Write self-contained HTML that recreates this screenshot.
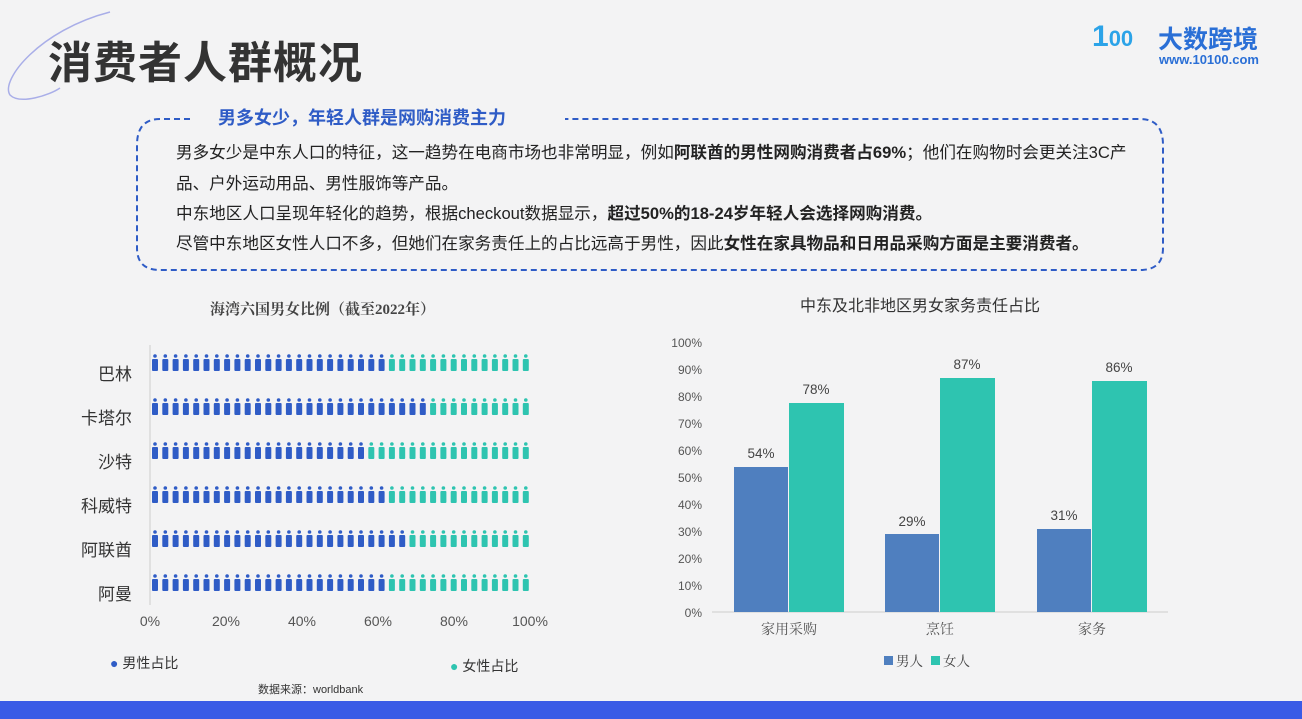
<!DOCTYPE html><html><head><meta charset="utf-8"><style>
body{margin:0;width:1302px;height:719px;background:#f3f3f4;position:relative;overflow:hidden;font-family:"Liberation Sans","Noto Sans CJK SC",sans-serif;}
.a{position:absolute;white-space:nowrap}
.txt{font-size:16.6px;color:#222;}
b{font-weight:700}
</style></head><body>
<svg class="a" style="left:0;top:0" width="1302" height="719">
<path d="M110 12 C40 30 0 80 10 95 C20 105 50 95 60 88" fill="none" stroke="#a9aee8" stroke-width="1.5"/>
<path d="M190 119 L160 119 Q137 119 137 145 L137 248 Q137 270 160 270 L1140 270 Q1163 270 1163 248 L1163 145 Q1163 119 1140 119 L565 119" fill="none" stroke="#2f5cc6" stroke-width="2" stroke-dasharray="6,4"/>
<rect x="0" y="701" width="1302" height="18" fill="#3a5be6"/>
<line x1="150" y1="345" x2="150" y2="605" stroke="#ccc"/>
<g id="ic"></g>
<g font-size="12" fill="#555" text-anchor="end" font-family="Liberation Sans,sans-serif">
<text x="702" y="347">100%</text><text x="702" y="374">90%</text><text x="702" y="401">80%</text><text x="702" y="428">70%</text><text x="702" y="455">60%</text><text x="702" y="482">50%</text><text x="702" y="509">40%</text><text x="702" y="536">30%</text><text x="702" y="563">20%</text><text x="702" y="590">10%</text><text x="702" y="617">0%</text>
</g>
<line x1="712" y1="612" x2="1168" y2="612" stroke="#ccc"/>
<rect x="734" y="467" width="54" height="145" fill="#4f7fbf"/>
<rect x="789" y="403" width="55" height="209" fill="#2ec4b0"/>
<rect x="885" y="534" width="54" height="78" fill="#4f7fbf"/>
<rect x="940" y="378" width="55" height="234" fill="#2ec4b0"/>
<rect x="1037" y="529" width="54" height="83" fill="#4f7fbf"/>
<rect x="1092" y="381" width="55" height="231" fill="#2ec4b0"/>
<g font-size="13.5" fill="#444" text-anchor="middle" font-family="Liberation Sans,sans-serif">
<text x="761" y="458">54%</text><text x="816" y="394">78%</text>
<text x="912" y="526">29%</text><text x="967" y="369">87%</text>
<text x="1064" y="520">31%</text><text x="1119" y="372">86%</text>
</g>
<g font-size="14" fill="#555" text-anchor="middle" font-family="Liberation Serif,Noto Serif CJK SC,serif">
<text x="789" y="634">家用采购</text><text x="940" y="634">烹饪</text><text x="1092" y="634">家务</text>
</g>
<rect x="884" y="656" width="9" height="9" fill="#4f7fbf"/><rect x="931" y="656" width="9" height="9" fill="#2ec4b0"/>
<g font-size="13.5" fill="#444" font-family="Liberation Serif,Noto Serif CJK SC,serif"><text x="896" y="666">男人</text><text x="943" y="666">女人</text></g>
<g font-size="14" fill="#555" text-anchor="middle" font-family="Liberation Sans,sans-serif">
<text x="150" y="626">0%</text><text x="226" y="626">20%</text><text x="302" y="626">40%</text><text x="378" y="626">60%</text><text x="454" y="626">80%</text><text x="530" y="626">100%</text></g>
</svg>
<div class="a" style="left:48px;top:27px;font-size:44px;font-weight:700;color:#333;letter-spacing:1px">消费者人群概况</div>
<div class="a" style="left:1092px;top:20px;font-size:30px;font-weight:700;color:#2ba3e8">1<span style="font-size:22px">00</span></div>
<div class="a" style="left:1158px;top:20px;font-size:25px;font-weight:700;color:#2a6fd6">大数跨境</div>
<div class="a" style="left:1159px;top:52px;font-size:13px;font-weight:700;color:#2a6fd6">www.10100.com</div>
<div class="a" style="left:218px;top:104px;font-size:18px;font-weight:700;color:#2f5cc6">男多女少，年轻人群是网购消费主力</div>
<div class="a txt" style="left:176px;top:139px">男多女少是中东人口的特征，这一趋势在电商市场也非常明显，例如<b>阿联酋的男性网购消费者占69%</b>；他们在购物时会更关注3C产</div>
<div class="a txt" style="left:176px;top:170px">品、户外运动用品、男性服饰等产品。</div>
<div class="a txt" style="left:176px;top:200px">中东地区人口呈现年轻化的趋势，根据checkout数据显示，<b>超过50%的18-24岁年轻人会选择网购消费。</b></div>
<div class="a txt" style="left:176px;top:230px">尽管中东地区女性人口不多，但她们在家务责任上的占比远高于男性，因此<b>女性在家具物品和日用品采购方面是主要消费者。</b></div>
<div class="a" style="left:210px;top:298px;font-size:15px;font-weight:700;color:#444;font-family:'Liberation Serif','Noto Serif CJK SC',serif">海湾六国男女比例（截至2022年）</div>
<div class="a" style="left:800px;top:292px;font-size:16px;color:#333">中东及北非地区男女家务责任占比</div>
<div class="a" style="left:60px;top:353px;width:72px;text-align:right;font-size:17px;color:#333;line-height:44px">巴林<br>卡塔尔<br>沙特<br>科威特<br>阿联酋<br>阿曼</div>
<div class="a" style="left:110px;top:653px;font-size:14px;color:#333"><span style="color:#2f5cc6">&#9679;</span> 男性占比</div>
<div class="a" style="left:450px;top:656px;font-size:14px;color:#333"><span style="color:#2ec4b0">&#9679;</span> 女性占比</div>
<div class="a" style="left:258px;top:681px;font-size:11px;color:#333">数据来源：worldbank</div>
<script>
var g=document.getElementById('ic'),ys=[363,407,451,495,539,583],m=[23,27,21,23,25,23],s='';
for(var r=0;r<6;r++)for(var i=0;i<37;i++){var x=152+i*10.3,c=i<m[r]?'#2f5cc6':'#2ec4b0',y=ys[r];
s+='<circle cx="'+(x+3)+'" cy="'+(y-7)+'" r="1.8" fill="'+c+'"/><rect x="'+x+'" y="'+(y-4)+'" width="6" height="12" rx="1" fill="'+c+'"/>';}
g.innerHTML=s;
</script>
</body></html>
